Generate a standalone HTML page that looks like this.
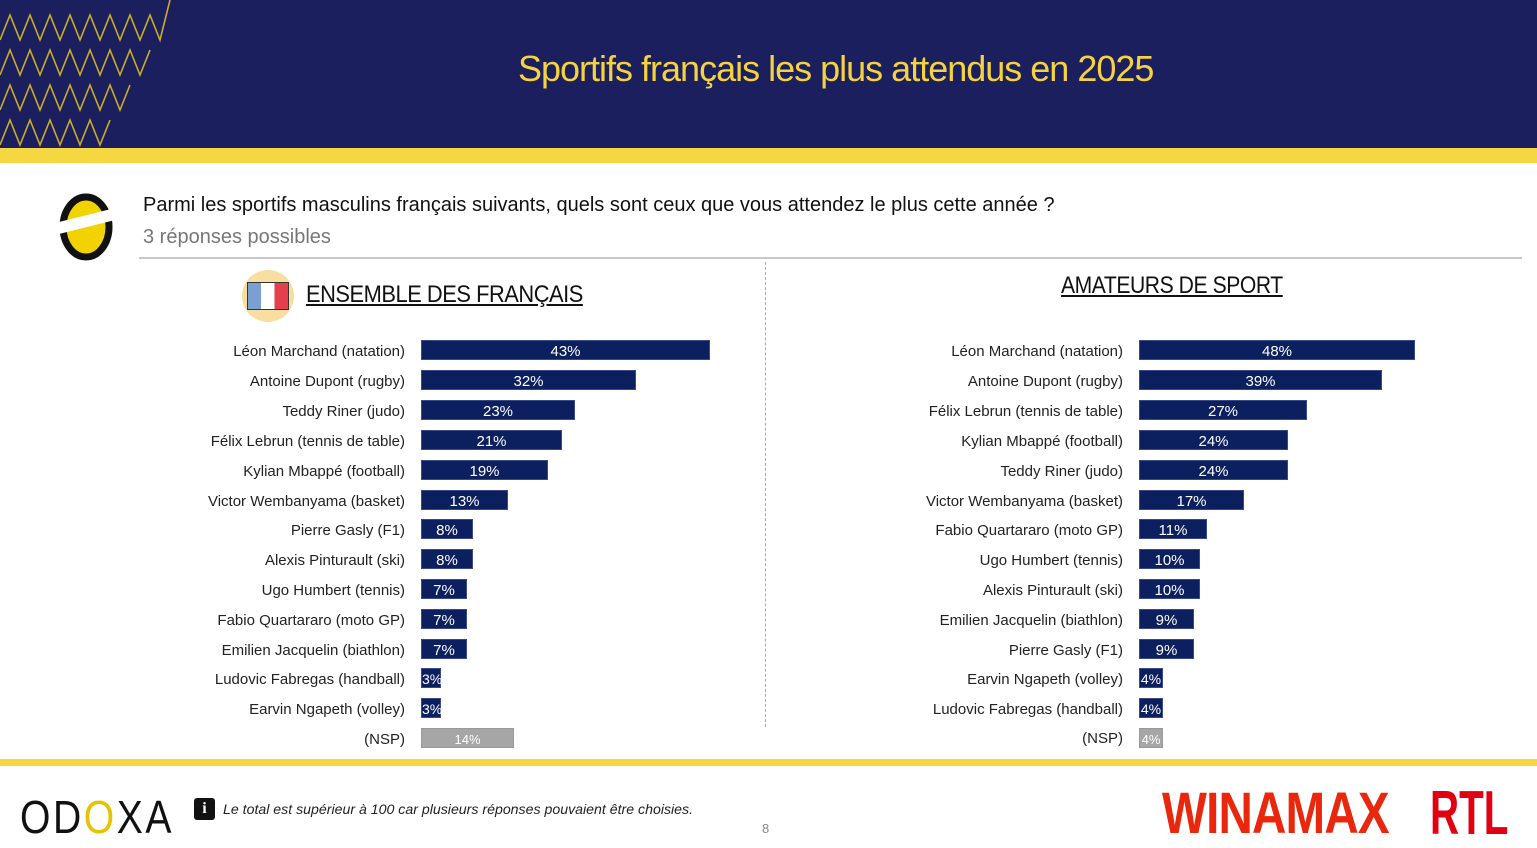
<!DOCTYPE html><html><head><meta charset="utf-8"><style>
body{margin:0;width:1537px;height:843px;position:relative;overflow:hidden;background:#fff;font-family:"Liberation Sans",sans-serif}
.a{position:absolute}
.l{position:absolute;right:0;font-size:15px;color:#222;white-space:nowrap;line-height:20px;top:2px}
.b{position:absolute;height:20px;background:#0c1f5f;color:#fff;font-size:15px;line-height:21px;text-align:center;box-sizing:border-box;border:1px solid #3a4a88}
.g{background:#a6a6a6;border-color:#999}
</style></head><body>
<div class="a" style="left:0;top:0;width:1537px;height:148px;background:#1b1f5e"></div>
<svg class="a" style="left:0;top:0" width="175" height="148">
<g stroke="#e8c620" stroke-width="1.6" fill="none" opacity=".85">
<path d="M0 40 L10 15 L20 40 L30 15 L40 40 L50 15 L60 40 L70 15 L80 40 L90 15 L100 40 L110 15 L120 40 L130 15 L140 40 L150 15 L160 40 L170 0"/>
<path d="M0 75 L10 50 L20 75 L30 50 L40 75 L50 50 L60 75 L70 50 L80 75 L90 50 L100 75 L110 50 L120 75 L130 50 L140 75 L150 50"/>
<path d="M0 110 L10 85 L20 110 L30 85 L40 110 L50 85 L60 110 L70 85 L80 110 L90 85 L100 110 L110 85 L120 110 L130 85"/>
<path d="M0 145 L10 120 L20 145 L30 120 L40 145 L50 120 L60 145 L70 120 L80 145 L90 120 L100 145 L110 120"/>
</g></svg>
<div class="a" style="left:518px;top:48px;font-size:36px;color:#f5d33f;letter-spacing:-1px;white-space:nowrap">Sportifs français les plus attendus en 2025</div>
<div class="a" style="left:0;top:148px;width:1537px;height:15px;background:#f5d742"></div>
<svg class="a" style="left:55px;top:190px" width="62" height="75"><ellipse cx="31" cy="37" rx="23" ry="30" fill="#f2d200" stroke="#111" stroke-width="7"/><polygon points="0,33 60,18 60,30 0,45" fill="#fff"/></svg>
<div class="a" style="left:143px;top:194px;font-size:20px;color:#111">Parmi les sportifs masculins français suivants, quels sont ceux que vous attendez le plus cette année ?</div>
<div class="a" style="left:143px;top:226px;font-size:20px;color:#777">3 réponses possibles</div>
<div class="a" style="left:139px;top:257px;width:1383px;height:2px;background:#c8c8c8"></div>
<div class="a" style="left:242px;top:270px;width:52px;height:52px;border-radius:50%;background:#f8dea0"></div>
<div class="a" style="left:247px;top:282px;width:40px;height:26px;border:1px solid #333;background:linear-gradient(90deg,#7a9fd0 33%,#fff 33%,#fff 66%,#e53e4d 66%)"></div>
<div class="a" style="left:306px;top:281px;font-size:24px;color:#111;text-decoration:underline;letter-spacing:-0.5px;white-space:nowrap;transform:scaleX(.91);transform-origin:left">ENSEMBLE DES FRANÇAIS</div>
<div class="a" style="left:1061px;top:272px;font-size:24px;color:#111;text-decoration:underline;letter-spacing:-0.5px;white-space:nowrap;transform:scaleX(.88);transform-origin:left">AMATEURS DE SPORT</div>
<div class="a" style="left:765px;top:262px;height:465px;border-left:1px dashed #aaa"></div>

<div class="a" style="left:0;top:2px;width:405px;height:0">
<div class="l" style="top:340px">Léon Marchand (natation)</div>
<div class="l" style="top:370px">Antoine Dupont (rugby)</div>
<div class="l" style="top:400px">Teddy Riner (judo)</div>
<div class="l" style="top:430px">Félix Lebrun (tennis de table)</div>
<div class="l" style="top:460px">Kylian Mbappé (football)</div>
<div class="l" style="top:490px">Victor Wembanyama (basket)</div>
<div class="l" style="top:519px">Pierre Gasly (F1)</div>
<div class="l" style="top:549px">Alexis Pinturault (ski)</div>
<div class="l" style="top:579px">Ugo Humbert (tennis)</div>
<div class="l" style="top:609px">Fabio Quartararo (moto GP)</div>
<div class="l" style="top:639px">Emilien Jacquelin (biathlon)</div>
<div class="l" style="top:668px">Ludovic Fabregas (handball)</div>
<div class="l" style="top:698px">Earvin Ngapeth (volley)</div>
<div class="l" style="top:728px">(NSP)</div>
</div>
<div class="b" style="left:421px;top:340px;width:289px">43%</div>
<div class="b" style="left:421px;top:370px;width:215px">32%</div>
<div class="b" style="left:421px;top:400px;width:154px">23%</div>
<div class="b" style="left:421px;top:430px;width:141px">21%</div>
<div class="b" style="left:421px;top:460px;width:127px">19%</div>
<div class="b" style="left:421px;top:490px;width:87px">13%</div>
<div class="b" style="left:421px;top:519px;width:52px">8%</div>
<div class="b" style="left:421px;top:549px;width:52px">8%</div>
<div class="b" style="left:421px;top:579px;width:46px">7%</div>
<div class="b" style="left:421px;top:609px;width:46px">7%</div>
<div class="b" style="left:421px;top:639px;width:46px">7%</div>
<div class="b" style="left:421px;top:668px;width:20px;font-size:14px">3%</div>
<div class="b" style="left:421px;top:698px;width:20px;font-size:14px">3%</div>
<div class="b g" style="left:421px;top:728px;width:93px;font-size:13px">14%</div>

<div class="a" style="left:0;top:2px;width:1123px;height:0">
<div class="l" style="top:340px">Léon Marchand (natation)</div>
<div class="l" style="top:370px">Antoine Dupont (rugby)</div>
<div class="l" style="top:400px">Félix Lebrun (tennis de table)</div>
<div class="l" style="top:430px">Kylian Mbappé (football)</div>
<div class="l" style="top:460px">Teddy Riner (judo)</div>
<div class="l" style="top:490px">Victor Wembanyama (basket)</div>
<div class="l" style="top:519px">Fabio Quartararo (moto GP)</div>
<div class="l" style="top:549px">Ugo Humbert (tennis)</div>
<div class="l" style="top:579px">Alexis Pinturault (ski)</div>
<div class="l" style="top:609px">Emilien Jacquelin (biathlon)</div>
<div class="l" style="top:639px">Pierre Gasly (F1)</div>
<div class="l" style="top:668px">Earvin Ngapeth (volley)</div>
<div class="l" style="top:698px">Ludovic Fabregas (handball)</div>
<div class="l" style="top:727px">(NSP)</div>
</div>
<div class="b" style="left:1139px;top:340px;width:276px">48%</div>
<div class="b" style="left:1139px;top:370px;width:243px">39%</div>
<div class="b" style="left:1139px;top:400px;width:168px">27%</div>
<div class="b" style="left:1139px;top:430px;width:149px">24%</div>
<div class="b" style="left:1139px;top:460px;width:149px">24%</div>
<div class="b" style="left:1139px;top:490px;width:105px">17%</div>
<div class="b" style="left:1139px;top:519px;width:68px">11%</div>
<div class="b" style="left:1139px;top:549px;width:61px">10%</div>
<div class="b" style="left:1139px;top:579px;width:61px">10%</div>
<div class="b" style="left:1139px;top:609px;width:55px">9%</div>
<div class="b" style="left:1139px;top:639px;width:55px">9%</div>
<div class="b" style="left:1139px;top:668px;width:24px;font-size:14px">4%</div>
<div class="b" style="left:1139px;top:698px;width:24px;font-size:14px">4%</div>
<div class="b g" style="left:1139px;top:728px;width:24px;font-size:13px">4%</div>

<div class="a" style="left:0;top:759px;width:1537px;height:7px;background:#f5d742"></div>
<div class="a" style="left:20px;top:792px;font-size:46px;color:#111;letter-spacing:3px;line-height:50px;transform:scaleX(.85);transform-origin:left">OD<span style="color:#e6c200">O</span>XA</div>
<div class="a" style="left:194px;top:798px;width:21px;height:22px;background:#111;color:#fff;border-radius:3px;font-size:16px;font-weight:bold;text-align:center;line-height:22px;font-family:'Liberation Serif',serif">i</div>
<div class="a" style="left:223px;top:801px;font-size:14px;font-style:italic;color:#222;white-space:nowrap;transform:scaleX(1.01);transform-origin:left">Le total est supérieur à 100 car plusieurs réponses pouvaient être choisies.</div>
<div class="a" style="left:762px;top:821px;font-size:13px;color:#888">8</div>
<div class="a" style="left:1162px;top:782px;font-size:58px;font-weight:bold;color:#e8270c;line-height:64px;transform:scaleX(.82);transform-origin:left;letter-spacing:-1px">WINAMAX</div>
<div class="a" style="left:1430px;top:782px;font-size:62px;font-weight:bold;color:#e00010;line-height:64px;transform:scaleX(.65);transform-origin:left">RTL</div>
</body></html>
